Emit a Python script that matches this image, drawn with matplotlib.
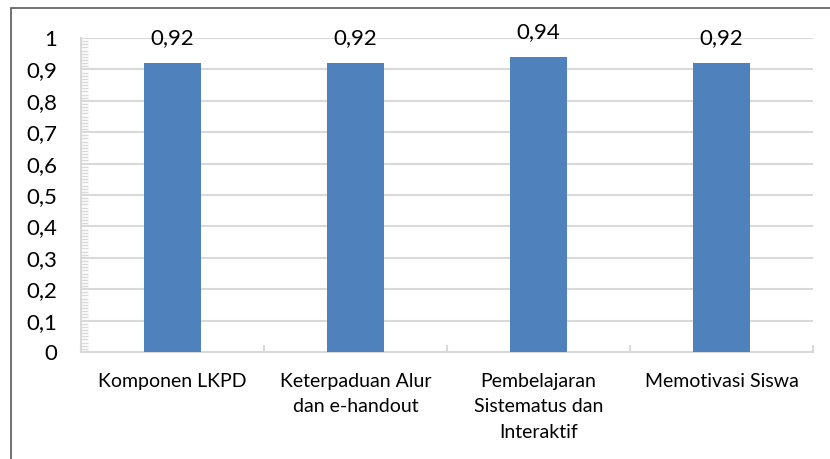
import matplotlib.pyplot as plt
from matplotlib.patches import Rectangle
from matplotlib.ticker import MultipleLocator
import numpy as np

plt.rcParams['font.family'] = ['Lato', 'DejaVu Sans']

kategori = ['Komponen LKPD', 'Keterpaduan Alur\ndan e-handout',
            'Pembelajaran\nSistematus dan\nInteraktif', 'Memotivasi Siswa']
nilai = [0.92, 0.92, 0.94, 0.92]
label_nilai = ['0,92', '0,92', '0,94', '0,92']
yticks = [0, 0.1, 0.2, 0.3, 0.4, 0.5, 0.6, 0.7, 0.8, 0.9, 1]
ytick_labels = ['0', '0,1', '0,2', '0,3', '0,4', '0,5', '0,6', '0,7', '0,8', '0,9', '1']

W, H = 830, 459
fig = plt.figure(figsize=(W / 100, H / 100), dpi=100)
ax = fig.add_axes([81 / W, 1 - 352 / H, (813 - 81) / W, (352 - 38) / H])

# bingkai luar
fig.patches.append(Rectangle((11 / W, -0.1), 1.2, 1 - 8 / H + 0.1, transform=fig.transFigure,
                             fill=False, edgecolor='#595959', linewidth=1.2))

x = np.arange(len(kategori))
ax.bar(x, nilai, width=0.31, color='#4f81bd', zorder=3)
for xi, v, t in zip(x, nilai, label_nilai):
    ax.annotate(t, (xi, v), xytext=(0, 18), textcoords='offset points',
                ha='center', va='center', fontsize=16, color='black')

ax.set_xlim(-0.5, len(kategori) - 0.5)
ax.set_ylim(0, 1)
ax.set_yticks(yticks)
ax.set_yticklabels(ytick_labels, fontsize=16)
ax.yaxis.set_minor_locator(MultipleLocator(0.01))
ax.tick_params(axis='y', which='major', length=0, pad=17)
ax.tick_params(axis='y', which='minor', direction='in', length=5, color='#d9d9d9', width=1)

ax.set_xticks(x)
ax.set_xticklabels(kategori, fontsize=14, linespacing=1.6, va='top')
ax.set_xticks(np.arange(len(kategori) + 1) - 0.5, minor=True)
ax.tick_params(axis='x', which='major', length=0, pad=15)
ax.tick_params(axis='x', which='minor', direction='in', length=5, color='#d9d9d9', width=1.5)

ax.grid(axis='y', which='major', color='#d9d9d9', linewidth=1.5, zorder=0)
for s in ['top', 'right']:
    ax.spines[s].set_visible(False)
for s in ['left', 'bottom']:
    ax.spines[s].set_color('#d9d9d9')
    ax.spines[s].set_linewidth(1.5)

fig.savefig('out.png', dpi=100)
